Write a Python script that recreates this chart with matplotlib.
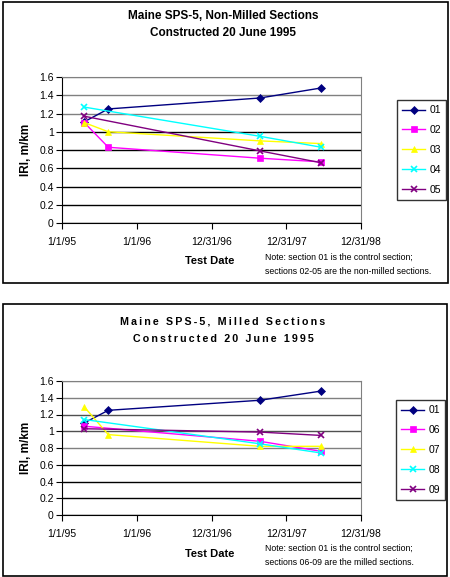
import matplotlib
matplotlib.use("Agg")
import matplotlib.pyplot as plt
import matplotlib.dates as mdates
from matplotlib.patches import Rectangle
import datetime as dt

plt.rcParams["font.family"] = ["Liberation Sans", "DejaVu Sans"]

# ---- data ----
d1 = dt.date(1995, 4, 20)
d2 = dt.date(1995, 8, 15)
d3 = dt.date(1997, 8, 25)
d4 = dt.date(1998, 6, 20)
dates_4 = [d1, d2, d3, d4]
dates_3 = [d1, d3, d4]

nonmilled_labels = ["01", "02", "03", "04", "05"]
nonmilled_dates = [dates_4, dates_4, dates_4, dates_3, dates_3]
nonmilled_iri = [
    [1.11, 1.25, 1.37, 1.48],
    [1.10, 0.83, 0.71, 0.67],
    [1.10, 1.00, 0.90, 0.87],
    [1.27, 0.95, 0.83],
    [1.17, 0.79, 0.66],
]

milled_labels = ["01", "06", "07", "08", "09"]
milled_dates = [dates_4, dates_3, dates_4, dates_3, dates_3]
milled_iri = [
    [1.10, 1.25, 1.37, 1.48],
    [1.06, 0.88, 0.76],
    [1.29, 0.96, 0.82, 0.82],
    [1.14, 0.85, 0.74],
    [1.03, 0.99, 0.95],
]

tick_dates = [dt.date(1995, 1, 1), dt.date(1996, 1, 1), dt.date(1996, 12, 31),
              dt.date(1997, 12, 31), dt.date(1998, 12, 31)]
tick_labels = ["1/1/95", "1/1/96", "12/31/96", "12/31/97", "12/31/98"]
y_ticks = [0, 0.2, 0.4, 0.6, 0.8, 1, 1.2, 1.4, 1.6]

# series styles: (color, marker, markersize)
styles = [("#000080", "D", 4), ("#FF00FF", "s", 4.5), ("#FFFF00", "^", 5),
          ("#00FFFF", "x", 4), ("#800080", "x", 4)]

W, H = 450, 577
fig = plt.figure(figsize=(4.5, 5.77), dpi=100)


def px(x0, y0, x1, y1):
    return [x0 / W, 1 - y1 / H, (x1 - x0) / W, (y1 - y0) / H]


def spaced(s):
    # Excel-style letter spacing using thin spaces
    return "\u2009".join(s)


def panel(axrect, dates, values, labels, title, title_y, title_ls, title_fs,
          note, note_y, xlabel_y, legend_anchor, frame, grid_colors):
    # outer frame
    fig.patches.append(Rectangle((frame[0] / W, 1 - frame[3] / H),
                                 (frame[2] - frame[0]) / W, (frame[3] - frame[1]) / H,
                                 transform=fig.transFigure, fill=False,
                                 edgecolor="black", linewidth=1.2))
    ax = fig.add_axes(axrect)
    handles = []
    for ds, vs, lab, (c, m, ms) in zip(dates, values, labels, styles):
        h, = ax.plot(ds, vs, color=c, marker=m, markersize=ms, linewidth=1,
                     markeredgewidth=1.2 if m == "x" else 0.5, label=lab)
        handles.append(h)

    ax.set_xlim(dt.date(1995, 1, 1), dt.date(1998, 12, 31))
    ax.set_ylim(0, 1.6)
    ax.set_xticks([mdates.date2num(d) for d in tick_dates])
    ax.set_xticklabels(tick_labels, fontsize=7.5)
    ax.set_yticks(y_ticks)
    ax.set_yticklabels([f"{v:g}" for v in y_ticks], fontsize=7.5)
    ax.tick_params(axis="x", length=4, pad=6, direction="out")
    ax.tick_params(axis="y", length=4, pad=2, direction="out")
    ax.yaxis.grid(True, linewidth=1)
    for gl, gc in zip(ax.get_ygridlines(), grid_colors):
        gl.set_color(gc)
    ax.set_axisbelow(True)
    ax.spines["top"].set_color("#808080")
    ax.spines["right"].set_color("#808080")
    ax.set_ylabel("IRI, m/km", fontsize=8.5, fontweight="bold", labelpad=5)

    fig.text(210 / W, 1 - xlabel_y / H, "Test Date", fontsize=8, fontweight="bold",
             ha="center", va="center")
    fig.text(265 / W, 1 - note_y / H, note, fontsize=6.3, ha="left", va="top",
             linespacing=1.75)
    fig.text(223 / W, 1 - title_y / H, title, fontsize=title_fs, fontweight="bold",
             ha="center", va="top", linespacing=title_ls)

    fig.legend(handles=handles, loc="upper left", bbox_to_anchor=legend_anchor,
               bbox_transform=fig.transFigure, fontsize=7.5, frameon=True,
               fancybox=False, edgecolor="black", handlelength=2.2,
               labelspacing=0.95, borderpad=0.5, handletextpad=0.4,
               borderaxespad=0)
    return ax


grid_top = ["black", "black", "black", "black", "black", "black",
            "#808080", "#808080", "#808080"]
grid_bot = ["black", "black", "black", "black", "#808080", "#505050",
            "#505050", "#808080", "#808080"]

panel(px(62, 77, 361, 223), nonmilled_dates, nonmilled_iri, nonmilled_labels,
      "Maine SPS-5, Non-Milled Sections\nConstructed 20 June 1995", 10, 1.5, 8.5,
      "Note: section 01 is the control section;\nsections 02-05 are the non-milled sections.",
      253, 261, (397 / W, 1 - 100 / H), (3, 2, 448, 283), grid_top)

panel(px(62, 381, 361, 515), milled_dates, milled_iri, milled_labels,
      spaced("Maine SPS-5, Milled Sections") + "\n" + spaced("Constructed 20 June 1995"),
      316, 1.95, 7.7,
      "Note: section 01 is the control section;\nsections 06-09 are the milled sections.",
      544, 554, (396 / W, 1 - 400 / H), (3, 304, 447, 576), grid_bot)

fig.savefig("out.png", dpi=100)
